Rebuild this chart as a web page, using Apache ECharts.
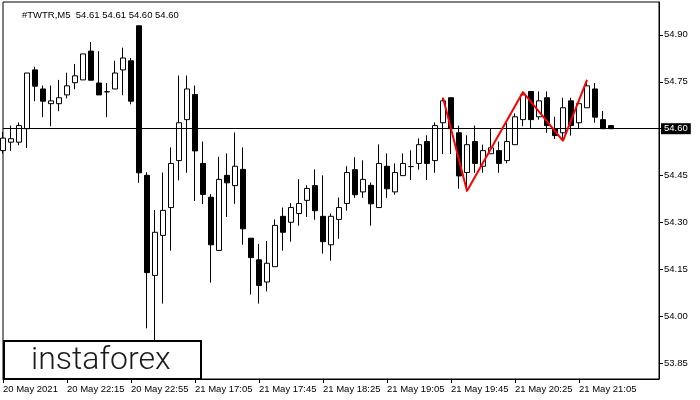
<!DOCTYPE html>
<html>
<head>
<meta charset="utf-8">
<script src="https://cdn.jsdelivr.net/npm/echarts@6/dist/echarts.min.js"></script>
<style>html,body{margin:0;padding:0;background:#fff;}#c{width:700px;height:400px;}</style>
</head>
<body>
<div id="c"></div>
<script>
// Candle values (5-minute bars, #TWTR M5)
const opens  = [54.53,54.557,54.557,54.600,54.788,54.727,54.680,54.680,54.708,54.747,
                54.756,54.848,54.746,54.718,54.727,54.788,54.817,54.929,54.451,54.131,
                54.259,54.348,54.498,54.629,54.709,54.489,54.381,54.211,54.451,54.418,
                54.470,54.250,54.181,54.110,54.159,54.320,54.301,54.329,54.371,54.418,
                54.320,54.229,54.310,54.361,54.469,54.398,54.419,54.348,54.480,54.398,
                54.450,54.479,54.489,54.559,54.498,54.619,54.699,54.587,54.460,54.559,
                54.480,54.520,54.530,54.498,54.549,54.629,54.719,54.638,54.699,54.600,
                54.587,54.689,54.619,54.667,54.727,54.629,54.61];
const closes = [54.57,54.568,54.610,54.778,54.736,54.688,54.689,54.699,54.737,54.769,
                54.839,54.755,54.708,54.718,54.778,54.826,54.688,54.459,54.140,54.269,
                54.339,54.489,54.619,54.727,54.529,54.390,54.229,54.438,54.427,54.480,
                54.280,54.188,54.099,54.170,54.291,54.269,54.348,54.361,54.409,54.338,
                54.239,54.320,54.348,54.460,54.389,54.438,54.360,54.489,54.408,54.460,
                54.489,54.479,54.549,54.489,54.610,54.689,54.600,54.449,54.549,54.489,
                54.530,54.539,54.489,54.559,54.638,54.708,54.629,54.689,54.610,54.578,
                54.667,54.610,54.680,54.737,54.637,54.600,54.60];
const lows   = [54.52,54.529,54.547,54.538,54.688,54.637,54.608,54.656,54.697,54.726,
                54.756,54.755,54.708,54.637,54.727,54.707,54.678,54.427,53.962,53.920,
                54.041,54.210,54.435,54.459,54.369,54.359,54.108,54.211,54.318,54.360,
                54.229,54.070,54.041,54.080,54.159,54.210,54.239,54.290,54.318,54.309,
                54.201,54.178,54.248,54.338,54.379,54.379,54.290,54.348,54.379,54.389,
                54.450,54.436,54.469,54.436,54.459,54.519,54.519,54.408,54.399,54.459,
                54.459,54.520,54.459,54.489,54.549,54.608,54.600,54.629,54.587,54.567,
                54.567,54.578,54.600,54.667,54.619,54.600,54.60];
const highs  = [54.59,54.610,54.620,54.778,54.798,54.738,54.738,54.756,54.779,54.807,
                54.839,54.877,54.848,54.746,54.817,54.859,54.826,54.929,54.461,54.340,
                54.460,54.540,54.770,54.770,54.738,54.559,54.391,54.510,54.521,54.588,
                54.540,54.250,54.232,54.241,54.310,54.348,54.362,54.439,54.419,54.470,
                54.451,54.329,54.380,54.480,54.509,54.499,54.428,54.550,54.521,54.489,
                54.521,54.531,54.569,54.579,54.620,54.699,54.699,54.610,54.579,54.610,
                54.549,54.600,54.559,54.619,54.649,54.719,54.719,54.719,54.719,54.638,
                54.699,54.699,54.680,54.756,54.746,54.657,54.61];
// Pattern (red zigzag) vertices: candle index and price
const zigzagIdx = [55, 58, 65, 70, 73];
const zigzagVal = [54.699, 54.401, 54.717, 54.561, 54.756];
// Axis tick labels
const xTickLabels = ["20 May 2021","20 May 22:15","20 May 22:55","21 May 17:05","21 May 17:45",
                     "21 May 18:25","21 May 19:05","21 May 19:45","21 May 20:25","21 May 21:05"];
const yTicks = [53.85, 54.00, 54.15, 54.30, 54.45, 54.60, 54.75, 54.90];
const lastPrice = 54.60;
const slotCount = 83;

const categories = Array.from({length: slotCount}, (_, i) => String(i));
const candleData = opens.map((o, i) => [o, closes[i], lows[i], highs[i]]);
const zigzagData = zigzagIdx.map((x, i) => [x, zigzagVal[i]]);
const FONT = '"Liberation Sans", Arial, sans-serif';
const showTick = (idx) => idx % 8 === 0 && (idx / 8) < xTickLabels.length;

const chart = echarts.init(document.getElementById('c'), null, {renderer: 'canvas'});
chart.setOption({
  animation: false,
  backgroundColor: '#fff',
  title: {
    text: '#TWTR,M5  54.61 54.61 54.60 54.60',
    left: 17, top: 5,
    textStyle: {fontSize: 9.5, fontWeight: 'normal', color: '#000', fontFamily: FONT}
  },
  grid: {left: 3, right: 41, top: 2, bottom: 21, show: true, borderColor: '#000', borderWidth: 1, backgroundColor: '#fff'},
  xAxis: {
    type: 'category',
    data: categories,
    boundaryGap: false,
    axisLine: {show: true, lineStyle: {color: '#000', width: 1}},
    axisTick: {show: true, interval: showTick, length: 4, lineStyle: {color: '#000'}},
    axisLabel: {
      interval: showTick,
      formatter: (v, idx) => xTickLabels[idx / 8],
      align: 'left', margin: 5, fontSize: 9.5, color: '#000', fontFamily: FONT
    },
    splitLine: {show: false}
  },
  yAxis: {
    type: 'value',
    position: 'right',
    min: 53.80, max: 55.005,
    axisLine: {show: true, lineStyle: {color: '#000', width: 1}},
    axisTick: {show: true, length: 4, customValues: yTicks, lineStyle: {color: '#000'}},
    axisLabel: {customValues: yTicks, formatter: (v) => v.toFixed(2), margin: 5, fontSize: 9.5, color: '#000', fontFamily: FONT},
    splitLine: {show: false}
  },
  series: [
    {
      type: 'candlestick',
      data: candleData,
      barWidth: 5,
      itemStyle: {color: '#fff', color0: '#000', borderColor: '#000', borderColor0: '#000', borderWidth: 1},
      markLine: {
        silent: true,
        symbol: ['none', 'none'],
        lineStyle: {color: '#000', width: 1, type: 'solid'},
        label: {
          position: 'end', distance: 2,
          formatter: (p) => Number(p.value).toFixed(2),
          backgroundColor: '#000', color: '#fff', padding: [1, 3, 0, 3],
          fontSize: 9.5, fontFamily: FONT, lineHeight: 10
        },
        data: [{yAxis: lastPrice}]
      }
    },
    {
      type: 'line',
      data: zigzagData,
      showSymbol: false,
      symbol: 'none',
      lineStyle: {color: '#ff0000', width: 2},
      z: 5
    }
  ],
  graphic: [
    {
      type: 'group', z: 100,
      children: [
        {type: 'rect', shape: {x: 4, y: 341, width: 197, height: 38}, style: {fill: '#fff', stroke: '#000', lineWidth: 2}},
        {type: 'text', x: 31, y: 361, style: {text: 'instaforex', font: '300 32px Roboto, "Open Sans", sans-serif', fill: '#1a1a1a', verticalAlign: 'middle'}}
      ]
    }
  ]
});
</script>
</body>
</html>
